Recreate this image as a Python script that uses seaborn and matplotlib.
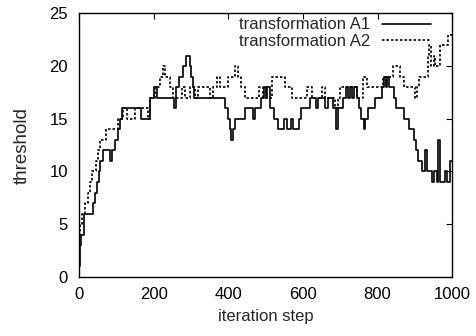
import matplotlib
matplotlib.use("Agg")
import matplotlib.pyplot as plt
import seaborn as sns
import pandas as pd

# Step change points (iteration, threshold)
a1_iter = [0, 3, 6, 13, 38, 43, 48, 53, 57, 64, 82, 88, 97, 104, 110, 116, 165, 190, 200, 210,
           255, 260, 268, 278, 286, 297, 301, 305, 309, 392, 398, 404, 407, 413, 418, 445, 465,
           472, 488, 495, 500, 505, 512, 522, 532, 550, 556, 568, 573, 590, 595, 620, 635, 640,
           660, 668, 680, 688, 695, 708, 716, 722, 726, 732, 736, 745, 750, 756, 763, 767, 774,
           792, 812, 818, 822, 826, 830, 835, 845, 850, 870, 883, 898, 904, 909, 918, 927, 932,
           945, 950, 958, 963, 967, 980, 985, 994, 1000]
a1_val = [1, 3, 4, 6, 7, 8, 9, 10, 11, 12, 11, 12, 13, 14, 15, 16, 15, 17, 18, 17,
          16, 18, 19, 20, 21, 20, 19, 18, 17, 16, 15, 14, 13, 14, 15, 16, 15,
          16, 17, 18, 17, 18, 16, 15, 14, 15, 14, 15, 14, 15, 16, 17, 16, 17,
          16, 17, 16, 14, 16, 17, 18, 17, 18, 17, 18, 17, 16, 15, 14, 15, 16,
          17, 18, 19, 18, 19, 18, 18, 17, 16, 15, 14, 13, 12, 11, 10, 12, 10,
          9, 10, 9, 13, 9, 10, 9, 11, 11]

a2_iter = [0, 3, 8, 15, 24, 29, 35, 45, 51, 55, 73, 105, 118, 128, 150, 185, 190, 204, 217, 226,
           230, 244, 253, 275, 284, 297, 311, 320, 351, 360, 369, 378, 400, 418, 427, 435, 445,
           481, 494, 516, 552, 570, 610, 624, 650, 660, 686, 695, 700, 745, 762, 772, 815, 842,
           860, 870, 900, 905, 912, 934, 938, 943, 950, 955, 967, 988, 1000]
a2_val = [4, 5, 6, 7, 8, 9, 10, 11, 12, 13, 14, 15, 16, 15, 16, 15, 17, 18, 19, 20,
          19, 18, 17, 18, 17, 18, 17, 18, 17, 18, 19, 18, 19, 20, 19, 18, 17,
          18, 17, 19, 18, 17, 18, 17, 18, 17, 16, 17, 18, 17, 19, 18, 19, 20,
          19, 18, 17, 18, 19, 21, 22, 20, 21, 20, 22, 23, 23]

labels = ["transformation A1", "transformation A2"]
x_ticks = [0, 200, 400, 600, 800, 1000]
y_ticks = [0, 5, 10, 15, 20, 25]

sns.set_style("white")
plt.rcParams["font.family"] = ["Liberation Sans", "DejaVu Sans"]

df1 = pd.DataFrame({"iteration": a1_iter, "threshold": a1_val})
df2 = pd.DataFrame({"iteration": a2_iter, "threshold": a2_val})

fig = plt.figure(figsize=(4.76, 3.36), dpi=100)
ax = fig.add_axes([0.166, 0.176, 0.784, 0.784])

sns.lineplot(data=df1, x="iteration", y="threshold", ax=ax, color="black", lw=1.2,
             drawstyle="steps-post", estimator=None, sort=False, label=labels[0])
sns.lineplot(data=df2, x="iteration", y="threshold", ax=ax, color="black", lw=1.2,
             linestyle=(0, (1.5, 1.2)), drawstyle="steps-post", estimator=None, sort=False,
             label=labels[1])

ax.set_xlim(0, 1000)
ax.set_ylim(0, 25)
ax.set_xticks(x_ticks)
ax.set_yticks(y_ticks)
ax.tick_params(direction="in", top=True, right=True, length=4, width=0.8,
               labelsize=12, colors="black")
ax.tick_params(axis="y", pad=8)
ax.tick_params(axis="x", pad=7)
for s in ax.spines.values():
    s.set_visible(True)
    s.set_color("black")
    s.set_linewidth(1.0)
ax.set_xlabel("iteration step", fontsize=12, labelpad=5)
ax.set_ylabel("threshold", fontsize=13.5, labelpad=13)

leg = ax.legend(loc="upper right", frameon=False, markerfirst=False, fontsize=12,
                handlelength=2.9, handletextpad=0.75, labelspacing=0.08,
                borderaxespad=0.0, bbox_to_anchor=(0.96, 1.01))

fig.savefig("out.png", dpi=100)
